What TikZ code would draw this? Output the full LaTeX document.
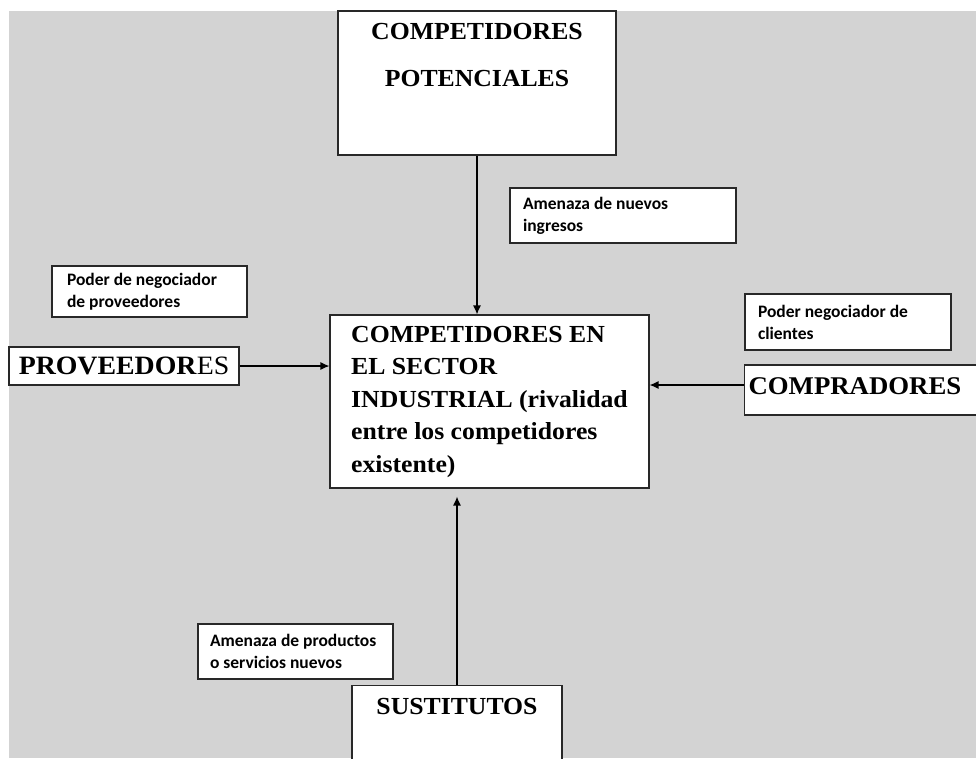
\documentclass[tikz,border=0pt]{standalone}
\usepackage{fontspec}
\usetikzlibrary{arrows.meta}
\newfontfamily\titfont{Liberation Serif}[FakeStretch=1.05]
\newfontfamily\etiqfont{Carlito}
\definecolor{fondo}{RGB}{211,211,211}
\definecolor{borde}{RGB}{40,40,40}

\begin{document}
\begin{tikzpicture}[x=1pt, y=-1pt, >={Latex[length=9pt,width=8pt]}, line width=1.2pt,
	caja/.style={draw=borde, fill=white, line width=1.1pt, inner sep=0pt},
	titulo/.style={font=\titfont\bfseries\fontsize{24.5}{32.5}\selectfont},
	etiqueta/.style={caja, align=flush left, font=\etiqfont\bfseries\fontsize{17.5}{22}\selectfont}]
	% 1. 背景
	\useasboundingbox (0,0) rectangle (976,758);
	\fill[fondo] (9,11) rectangle (976,758);
	
	% 2. 五个主框
	\node[caja, minimum width=278pt, minimum height=144pt] (potenciales) at (477,83) {};
	\node[titulo, align=center, anchor=north, inner sep=0pt] (potencialestxt) at (477,23) {COMPETIDORES\\[14.5pt]POTENCIALES};
	\node[caja, titulo, align=left, minimum width=319pt, minimum height=173pt] (sector) at (489.5,401.5)
		{COMPETIDORES EN\\EL SECTOR\\INDUSTRIAL (rivalidad\\entre los competidores\\existente)};
	\node[caja, titulo, minimum width=230pt, minimum height=38pt, font=\titfont\fontsize{26.5}{30}\selectfont] (proveedores) at (124,366) {\textbf{PROVEEDOR}ES};
	\node[caja, titulo, anchor=west, minimum width=260pt, minimum height=50pt, text width=252pt, inner xsep=4pt, text depth=7pt, align=left,
		font=\titfont\bfseries\fontsize{25.5}{30}\selectfont] (compradores) at (744,390) {COMPRADORES};
	\node[caja, titulo, anchor=north, minimum width=210pt, inner ysep=13pt, text depth=58pt] (sustitutos) at (457,685) {SUSTITUTOS};
	
	% 3. 说明框
	\node[etiqueta, minimum width=195pt, minimum height=51pt, text width=165pt, inner xsep=15pt] (negproveedores) at (149.5,291.5) {Poder de negociador\\de proveedores};
	\node[etiqueta, minimum width=226pt, minimum height=55pt, text width=200pt, inner xsep=13pt] (nuevos) at (623,215.5) {Amenaza de nuevos\\ingresos};
	\node[etiqueta, minimum width=206pt, minimum height=56pt, text width=180pt, inner xsep=13pt] (negclientes) at (848,322) {Poder negociador de\\clientes};
	\node[etiqueta, minimum width=195pt, minimum height=55pt, text width=171pt, inner xsep=12pt] (productos) at (295.5,651.5) {Amenaza de productos\\o servicios nuevos};
	
	% 4. 箭头
	\draw[->] (potenciales.south) -- (potenciales.south |- sector.north);
	\draw[->] (proveedores.east) -- (proveedores.east -| sector.west);
	\draw[->] ([yshift=5pt]compradores.west) -- ([yshift=5pt]compradores.west -| sector.east);
	\draw[->] (sustitutos.north) -- ([yshift=-8pt]sustitutos.north |- sector.south);
\end{tikzpicture}
\end{document}
